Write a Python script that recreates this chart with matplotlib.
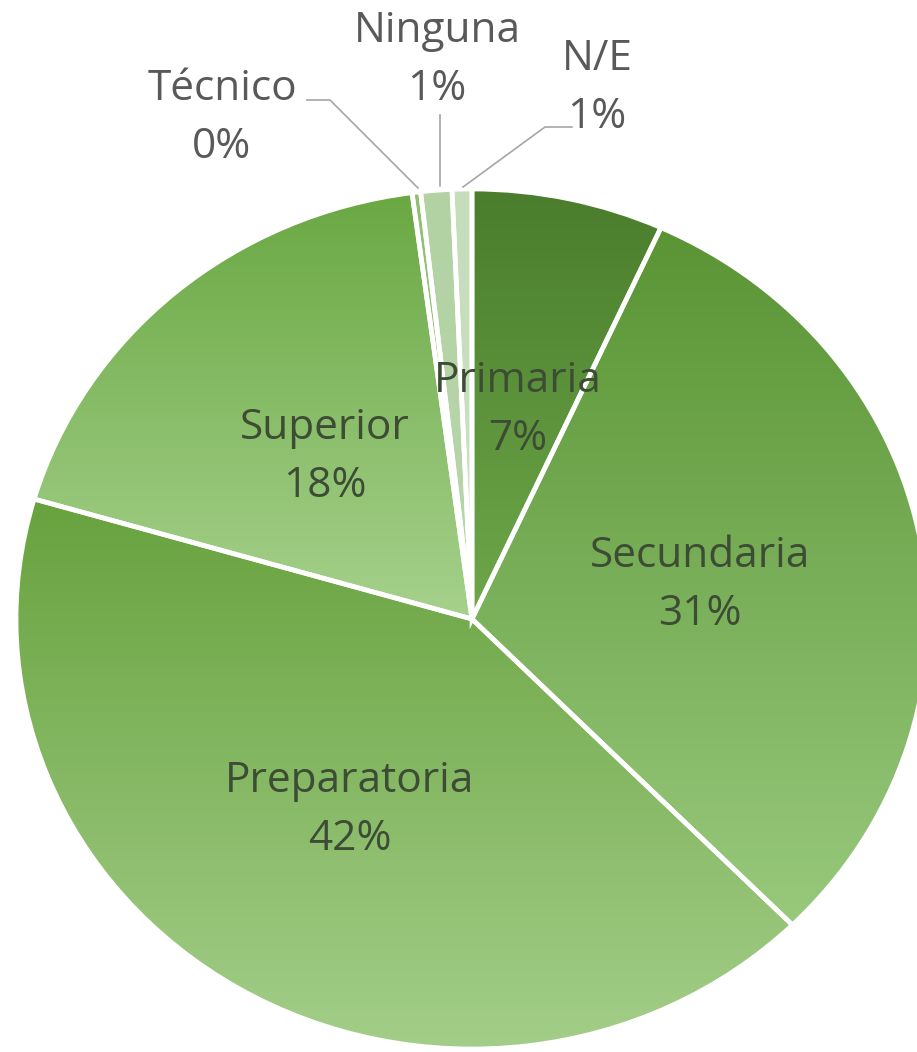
import numpy as np
import matplotlib
matplotlib.use("Agg")
import matplotlib.pyplot as plt
from matplotlib.colors import LinearSegmentedColormap

# ---- data ----
categories = ["Primaria", "Secundaria", "Preparatoria", "Superior", "Técnico", "Ninguna", "N/E"]
values = [6.8, 30.8, 41.9, 18.4, 0.3, 1.1, 0.7]
pct_labels = ["7%", "31%", "42%", "18%", "0%", "1%", "1%"]
top_colors = ["#4a7d2c", "#5a9434", "#68a23e", "#6aa843", "#8fbf70", "#b3d2a4", "#c6ddbc"]
bottom_colors = ["#6ea84a", "#98c97c", "#a3ce89", "#a6d18c", "#a6cf8c", "#b8d6aa", "#cbe1c2"]

W, H = 917, 1052
fig = plt.figure(figsize=(W / 100, H / 100), dpi=100)
fig.patch.set_facecolor("white")

# pie ellipse in pixels: center (472, 619), rx 456, ry 430
cx, cy, rx, ry = 472, 619, 456, 430
ax = fig.add_axes([(cx - rx) / W, (H - cy - ry) / H, 2 * rx / W, 2 * ry / H])

wedges, _ = ax.pie(values, startangle=90, counterclock=False, radius=1,
                   colors=top_colors,
                   wedgeprops=dict(edgecolor="white", linewidth=3.4))

for w, c0, c1 in zip(wedges, top_colors, bottom_colors):
    ext = w.get_path().get_extents()
    cmap = LinearSegmentedColormap.from_list("g", [c1, c0])
    grad = np.linspace(0, 1, 256).reshape(-1, 1)
    im = ax.imshow(grad, cmap=cmap, origin="lower", aspect="auto",
                   extent=[ext.x0, ext.x1, ext.y0, ext.y1], zorder=1,
                   interpolation="bilinear")
    im.set_clip_path(w)
    w.set_facecolor("none")
    w.set_zorder(3)

ax.set_xlim(-1, 1)
ax.set_ylim(-1, 1)
ax.set_aspect("auto")
ax.axis("off")

def px(x, y):
    """pixel -> axes data coords"""
    return ((x - cx) / rx, (cy - y) / ry)

font = "Open Sans"
fs = 30.5
inside_color = "#3d4c35"
outside_color = "#595959"

inside_pos = {"Primaria": (518, 410), "Secundaria": (700, 585),
              "Preparatoria": (350, 810), "Superior": (325, 457)}
outside_pos = {"Técnico": (222, 118), "Ninguna": (437, 60), "N/E": (597, 88)}

for cat, pl in zip(categories, pct_labels):
    if cat in inside_pos:
        x, y = px(*inside_pos[cat])
        ax.text(x, y, f"{cat}\n{pl}", ha="center", va="center", fontsize=fs,
                family=font, color=inside_color, linespacing=1.5, zorder=5)
    else:
        x, y = px(*outside_pos[cat])
        ax.text(x, y, f"{cat}\n{pl}", ha="center", va="center", fontsize=fs,
                family=font, color=outside_color, linespacing=1.5, zorder=5,
                clip_on=False)

# leader lines
lc = "#a6a6a6"
leaders = {
    "Técnico": [(307, 100), (330, 100), (418, 188)],
    "Ninguna": [(440, 115), (440, 186)],
    "N/E": [(572, 127), (545, 127), (463, 187)],
}
for pts in leaders.values():
    xs, ys = zip(*[px(*p) for p in pts])
    ax.plot(xs, ys, color=lc, lw=1.2, clip_on=False, zorder=4)

fig.savefig("out.png", dpi=100, facecolor="white")
